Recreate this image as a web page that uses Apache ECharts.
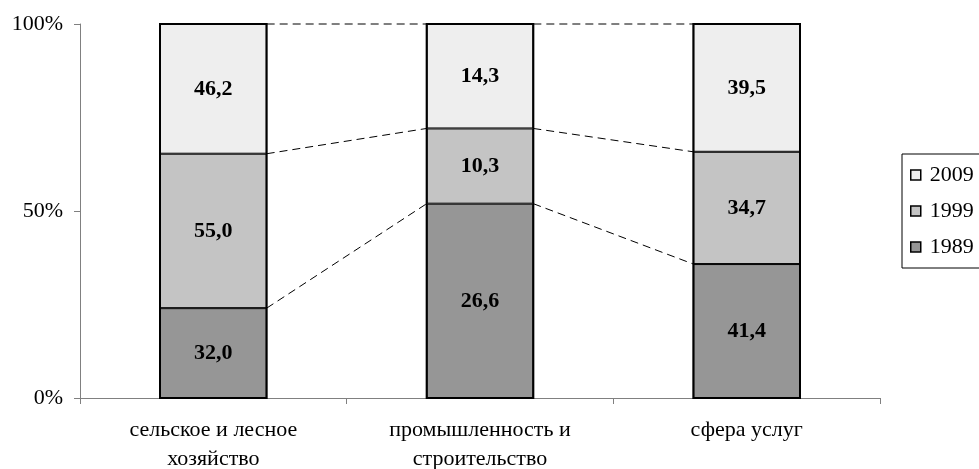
<!DOCTYPE html>
<html>
<head>
<meta charset="utf-8">
<script src="https://cdn.jsdelivr.net/npm/echarts@6/dist/echarts.min.js"></script>
<style>
html,body{margin:0;padding:0;background:#fff;}
#chart{width:979px;height:469px;}
</style>
</head>
<body>
<div id="chart"></div>
<script>
var categories = ['сельское и лесное\nхозяйство', 'промышленность и\nстроительство', 'сфера услуг'];
var seriesNames = ['1989', '1999', '2009'];
var values1989 = [32.0, 26.6, 41.4];
var values1999 = [55.0, 10.3, 34.7];
var values2009 = [46.2, 14.3, 39.5];
var seriesColors = ['#969696', '#c4c4c4', '#eeeeee'];
var yTicks = [0, 50, 100];

var raw = [values1989, values1999, values2009];
var totals = categories.map(function (c, i) { return values1989[i] + values1999[i] + values2009[i]; });
var pct = raw.map(function (arr) { return arr.map(function (v, i) { return v / totals[i] * 100; }); });

// cumulative levels for connector lines
var cum = [];
for (var s = 0; s < 3; s++) {
  cum.push(categories.map(function (c, i) {
    var t = 0; for (var k = 0; k <= s; k++) t += pct[k][i]; return t;
  }));
}
var connectors = [];
for (var i = 0; i < categories.length - 1; i++) {
  for (var s2 = 0; s2 < 3; s2++) connectors.push([i, cum[s2][i], cum[s2][i + 1]]);
}
var outlines = categories.map(function (c, i) { return [i, cum[2][i]]; });

var FONT = '"Liberation Serif", "Times New Roman", serif';
var chart = echarts.init(document.getElementById('chart'));

var series = seriesNames.map(function (name, s) {
  return {
    name: name,
    type: 'bar',
    stack: 'total',
    barWidth: '40%',
    data: pct[s],
    itemStyle: { color: seriesColors[s], borderColor: '#000', borderWidth: 1 },
    label: {
      show: true,
      position: 'inside',
      fontFamily: FONT,
      fontWeight: 'bold',
      fontSize: 22,
      color: '#000',
      formatter: function (p) { return raw[s][p.dataIndex].toFixed(1).replace('.', ','); }
    },
    emphasis: { disabled: true },
    z: 3
  };
});

series.push({
  type: 'custom',
  name: 'connectors',
  data: connectors,
  silent: true,
  z: 2,
  renderItem: function (params, api) {
    var idx = api.value(0);
    var p1 = api.coord([idx, api.value(1)]);
    var p2 = api.coord([idx + 1, api.value(2)]);
    var half = api.size([1, 0])[0] * 0.2;
    return {
      type: 'line',
      shape: { x1: p1[0] + half, y1: p1[1], x2: p2[0] - half, y2: p2[1] },
      style: { stroke: '#000', lineWidth: 1, lineDash: [8, 5] }
    };
  }
});

series.push({
  type: 'custom',
  name: 'outlines',
  data: outlines,
  silent: true,
  z: 4,
  renderItem: function (params, api) {
    var idx = api.value(0);
    var top = api.coord([idx, api.value(1)]);
    var bottom = api.coord([idx, 0]);
    var half = api.size([1, 0])[0] * 0.2;
    return {
      type: 'rect',
      shape: { x: top[0] - half, y: top[1], width: half * 2, height: bottom[1] - top[1] },
      style: { fill: null, stroke: '#000', lineWidth: 2 }
    };
  }
});

chart.setOption({
  animation: false,
  backgroundColor: '#fff',
  grid: { left: 80, right: 99, top: 24, bottom: 71, containLabel: false, outerBoundsMode: 'none' },
  legend: {
    data: ['2009', '1999', '1989'],
    orient: 'vertical',
    left: 902,
    top: 154,
    icon: 'rect',
    itemWidth: 10,
    itemHeight: 10,
    itemGap: 14,
    padding: [10, 30, 10, 8],
    borderColor: '#000',
    borderWidth: 1,
    itemStyle: { borderWidth: 1.5, borderColor: '#000' },
    textStyle: { fontFamily: FONT, fontSize: 22, color: '#000', padding: [0, 0, 0, 4] }
  },
  xAxis: {
    type: 'category',
    data: categories,
    axisLine: { lineStyle: { color: '#808080', width: 1 } },
    axisTick: { show: true, alignWithLabel: false, length: 6, lineStyle: { color: '#808080' } },
    axisLabel: { fontFamily: FONT, fontSize: 22, color: '#000', lineHeight: 29, margin: 18 }
  },
  yAxis: {
    type: 'value',
    min: yTicks[0],
    max: yTicks[yTicks.length - 1],
    interval: yTicks[1] - yTicks[0],
    axisLine: { show: true, lineStyle: { color: '#808080', width: 1 } },
    axisTick: { show: true, length: 6, lineStyle: { color: '#808080' } },
    splitLine: { show: false },
    axisLabel: { fontFamily: FONT, fontSize: 22, color: '#000', formatter: '{value}%', margin: 17 }
  },
  series: series
});
</script>
</body>
</html>
